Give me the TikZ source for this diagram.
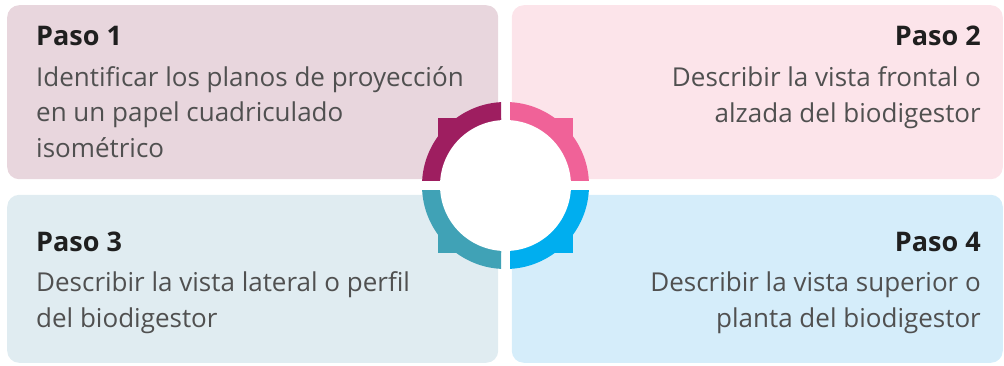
\documentclass[tikz,border=0pt]{standalone}
\usepackage{fontspec}
\setmainfont{Open Sans}
\usepackage{tikz}
\usetikzlibrary{positioning}
\definecolor{boxone}{HTML}{E8D6DD}
\definecolor{boxtwo}{HTML}{FCE4EA}
\definecolor{boxthree}{HTML}{E0ECF1}
\definecolor{boxfour}{HTML}{D5EDFA}
\definecolor{ringone}{HTML}{9E1E60}
\definecolor{ringtwo}{HTML}{F06298}
\definecolor{ringthree}{HTML}{40A2B6}
\definecolor{ringfour}{HTML}{00AEEF}
\definecolor{txtgray}{HTML}{505050}

\begin{document}
\begin{tikzpicture}[
  x=1pt, y=-1pt,
  box/.style={rectangle, rounded corners=12pt, draw=none, minimum width=491pt, minimum height=174pt, inner sep=0pt},
  title/.style={font=\fontsize{27}{32}\selectfont\bfseries, text=black!88, inner sep=0pt},
  body/.style={font=\fontsize{26}{35.5}\selectfont, text=txtgray, inner sep=0pt}
]
\useasboundingbox (0,0) rectangle (1004,365);
% boxes
\node[box, fill=boxone, anchor=north west] (b1) at (7,5) {};
\node[box, fill=boxtwo, anchor=north east] (b2) at (1003,5) {};
\node[box, fill=boxthree, anchor=south west, minimum height=168pt] (b3) at (7,363) {};
\node[box, fill=boxfour, anchor=south east, minimum height=168pt] (b4) at (1003,363) {};
% texts
\node[title, anchor=base west] (t1) at (36,45) {Paso 1};
\node[body, anchor=base west, align=left] (d1) at (36,157) {Identificar los planos de proyección\\en un papel cuadriculado\\isométrico};
\node[title, anchor=base east] (t2) at (981,45) {Paso 2};
\node[body, anchor=base east, align=right] (d2) at (981,122) {Describir la vista frontal o\\alzada del biodigestor};
\node[title, anchor=base west] (t3) at (36,251) {Paso 3};
\node[body, anchor=base west, align=left] (d3) at (36,327) {Describir la vista lateral o perfil\\del biodigestor};
\node[title, anchor=base east] (t4) at (981,251) {Paso 4};
\node[body, anchor=base east, align=right] (d4) at (981,327) {Describir la vista superior o\\planta del biodigestor};
% ring
\coordinate (c) at (505.5,185.5);
\foreach \sx/\sy/\col in {-1/-1/ringone, 1/-1/ringtwo, -1/1/ringthree, 1/1/ringfour}{
  \begin{scope}
    \clip ([shift={(\sx*4.5,\sy*5)}]c) rectangle ++(\sx*100,\sy*100);
    \fill[\col] (c) circle (83.5);
    \fill[\col] (c) rectangle ++(\sx*67.5,\sy*67.5);
  \end{scope}
}
\fill[white] (c) circle (65.5);
\end{tikzpicture}
\end{document}
